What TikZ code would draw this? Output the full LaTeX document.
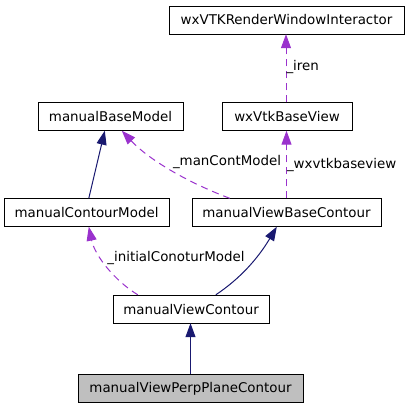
\documentclass[tikz,border=0pt]{standalone}
\usepackage{fontspec}
\setmainfont{DejaVu Sans}
\usetikzlibrary{arrows.meta}
\definecolor{inhblue}{HTML}{191970}
\definecolor{usepurple}{HTML}{9A32CD}
\colorlet{curgray}{black!25}
\tikzset{
    boxsty/.style={draw=black,fill=white,rectangle,minimum height=28pt,inner xsep=4pt,anchor=center,font=\fontsize{13.4}{16}\selectfont},
    cursty/.style={boxsty,fill=curgray},
    inhsty/.style={draw=inhblue,line width=1pt,-{Triangle[length=14pt,width=10pt]}},
    usesty/.style={draw=usepurple,line width=1pt,dash pattern=on 7pt off 5pt,-{Triangle[length=14pt,width=10pt]}},
    lblsty/.style={inner sep=0pt,font=\fontsize{13.4}{16}\selectfont},
}

\begin{document}
\begin{tikzpicture}[x=1pt,y=-1pt]
\useasboundingbox (0,0) rectangle (409,408);

% classes
\node[boxsty,minimum width=235pt] (wxr) at (286.5,20) {wxVTKRenderWindowInteractor};
\node[boxsty,minimum width=145pt] (mbm) at (110.5,116.5) {manualBaseModel};
\node[boxsty,minimum width=130pt] (wxv) at (287,116.5) {wxVtkBaseView};
\node[boxsty,minimum width=165pt] (mcm) at (86.5,212.5) {manualContourModel};
\node[boxsty,minimum width=189pt] (vbc) at (286.5,212.5) {manualViewBaseContour};
\node[boxsty,minimum width=156pt] (mvc) at (191,309) {manualViewContour};
\node[cursty,minimum width=225pt] (mpp) at (190.5,388.5) {manualViewPerpPlaneContour};

% members
\draw[usesty] ([xshift=-1pt]wxv.north) -- ([xshift=-1pt]wxv.north |- wxr.south)
  node[lblsty,right,pos=0.52] {\_iren};
\draw[usesty] (vbc.north) -- (vbc.north |- wxv.south)
  node[lblsty,right,pos=0.5] {\_wxvtkbaseview};
\draw[usesty] ([xshift=38pt]vbc.north west) .. controls +(-40,-15) and +(28,30) .. ([xshift=84pt]mbm.south west);
\node[lblsty] (lmcm) at (227,162) {\_manContModel};
\draw[usesty] ([xshift=25pt]mvc.north west) .. controls +(-23,-14) and +(6,29) .. ([xshift=85pt]mcm.south west);
\node[lblsty] (licm) at (176,258) {\_initialConoturModel};

% inheritance
\draw[inhsty] ([xshift=85pt]mcm.north west) -- ([xshift=67pt]mbm.south west);
\draw[inhsty] ([xshift=103pt]mvc.north west) .. controls +(24,-16) and +(-19,32) .. ([xshift=85pt]vbc.south west);
\draw[inhsty] (mpp.north) -- (mpp.north |- mvc.south);
\end{tikzpicture}
\end{document}
